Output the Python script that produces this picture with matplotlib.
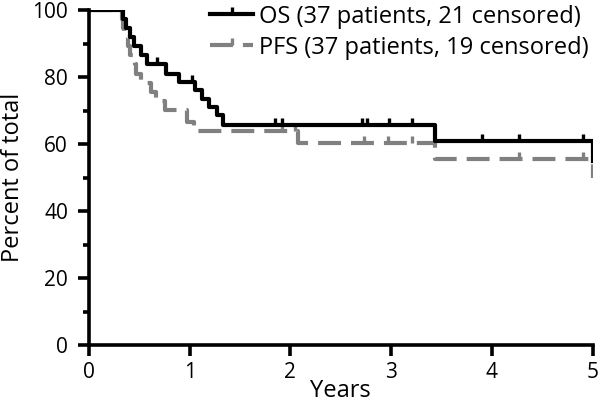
import matplotlib
matplotlib.use('Agg')
import matplotlib.pyplot as plt
from matplotlib.lines import Line2D
from matplotlib.ticker import MultipleLocator
import numpy as np

plt.rcParams['font.family'] = ['Open Sans', 'DejaVu Sans']

# overall survival (OS), step times in years and percent surviving
os_t = [0, 0.34, 0.37, 0.41, 0.45, 0.52, 0.58, 0.77, 0.89, 1.05, 1.12, 1.19, 1.27, 1.33, 3.43, 5.0]
os_s = [100, 97.3, 94.6, 91.9, 89.2, 86.5, 83.8, 81.1, 78.6, 76.1, 73.6, 71.1, 68.7, 65.8, 61.0, 55.0]
os_cens = [0.68, 1.02, 1.85, 1.92, 2.71, 2.76, 2.98, 3.21, 3.90, 4.27, 4.90]

# progression free survival (PFS)
pfs_t = [0, 0.33, 0.34, 0.35, 0.39, 0.41, 0.46, 0.47, 0.52, 0.62, 0.67, 0.76, 0.97, 1.04, 2.08, 3.43, 5.0]
pfs_s = [100, 97.3, 94.6, 91.9, 89.2, 86.5, 83.8, 81.1, 78.4, 75.7, 73.0, 70.2, 66.7, 63.9, 60.4, 55.7, 50.0]
pfs_cens = [1.92, 2.05, 2.73, 2.97, 3.21, 4.27, 4.90]

os_label = 'OS (37 patients, 21 censored)'
pfs_label = 'PFS (37 patients, 19 censored)'


def level_at(t, s, x):
    idx = np.searchsorted(t, x, side='right') - 1
    return np.array(s)[idx]


fig = plt.figure(figsize=(6, 4.08), dpi=100)
ax = fig.add_axes([0.148, 0.154, 0.840, 0.821])

grey = '#808080'
lw = 3.0
dash = (5.5, 2.4)

ax.step(pfs_t, pfs_s, where='post', color=grey, lw=lw, dashes=dash, solid_capstyle='butt')
ax.plot(pfs_cens, level_at(pfs_t, pfs_s, pfs_cens), ls='none', marker=2, ms=5, mew=2.4, color=grey)

ax.step(os_t, os_s, where='post', color='black', lw=lw)
ax.plot(os_cens, level_at(os_t, os_s, os_cens), ls='none', marker=2, ms=5, mew=2.4, color='black')

ax.set_xlim(0, 5)
ax.set_ylim(0, 100)
ax.xaxis.set_major_locator(MultipleLocator(1))
ax.yaxis.set_major_locator(MultipleLocator(20))
ax.yaxis.set_minor_locator(MultipleLocator(10))

for side in ['top', 'right']:
    ax.spines[side].set_visible(False)
for side in ['left', 'bottom']:
    ax.spines[side].set_linewidth(2.6)
ax.tick_params(which='major', length=8, width=2.6, labelsize=15, direction='out')
ax.tick_params(which='minor', length=4.5, width=2.6)
ax.tick_params(axis='y', which='major', pad=7)
ax.tick_params(axis='x', which='major', pad=4)

ax.set_xlabel('Years', fontsize=17, labelpad=-3)
ax.set_ylabel('Percent of total', fontsize=17, labelpad=5)

handles = [
    Line2D([], [], color='black', lw=lw, marker=2, ms=5, mew=2.4),
    Line2D([], [], color=grey, lw=lw, dashes=dash, marker=2, ms=5, mew=2.4),
]
ax.legend(handles, [os_label, pfs_label], loc='upper right', bbox_to_anchor=(1.01, 1.045),
          frameon=False, fontsize=17, handlelength=1.8, handletextpad=0.25,
          labelspacing=0.3, numpoints=1, borderaxespad=0)

fig.savefig('out.png', dpi=100)
